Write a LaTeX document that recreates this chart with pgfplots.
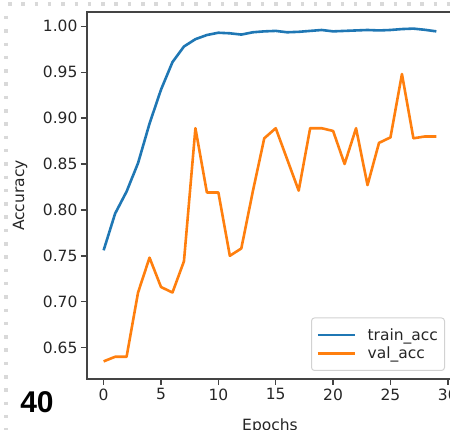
\documentclass[border=0pt]{standalone}
\usepackage{fontspec}
\setmainfont{DejaVu Sans}
\newfontfamily\badgefont{Liberation Sans}
\usepackage{pgfplots}
\pgfplotsset{compat=1.18}

\definecolor{mplblue}{HTML}{1F77B4}
\definecolor{mplorange}{HTML}{FF7F0E}
\definecolor{spine}{HTML}{444444}

\begin{document}
\begin{tikzpicture}[x=1pt,y=1pt]
\useasboundingbox (0,0) rectangle (450,430);
\clip (0,0) rectangle (450,430);
% notebook frame dots
\draw[gray!30, line width=3.5pt, dash pattern=on 3.5pt off 9.8pt] (6,414) -- (6,0);
\draw[gray!30, line width=3.5pt, dash pattern=on 3.5pt off 9.8pt] (8,426) -- (450,426);
\node[font=\badgefont\bfseries\fontsize{30}{32}\selectfont, anchor=center] at (37,28) {40};

\begin{axis}[
  at={(87pt,51pt)}, anchor=south west,
  width=366pt, height=367pt, scale only axis,
  xmin=-1.45, xmax=30.45, ymin=0.6158, ymax=1.0156,
  xtick={0,5,10,15,20,25,30},
  ytick={0.65,0.70,0.75,0.80,0.85,0.90,0.95,1.00},
  yticklabel style={/pgf/number format/fixed, /pgf/number format/fixed zerofill, /pgf/number format/precision=2},
  /pgf/number format/assume math mode=true,
  tick label style={font=\fontsize{15.5}{18}\selectfont, text=black!85},
  xtick pos=bottom, ytick pos=left, tick align=outside,
  major tick length=6pt,
  every tick/.style={spine, line width=1.4pt},
  axis line style={spine, line width=1.6pt},
  xlabel={Epochs}, ylabel={Accuracy},
  every axis x label/.style={at={(axis description cs:0.5,-0.128)}, anchor=center,
    font=\fontsize{15.5}{18}\selectfont, text=black!85},
  every axis y label/.style={at={(axis description cs:-0.183,0.5)}, anchor=center, rotate=90,
    font=\fontsize{15.5}{18}\selectfont, text=black!85},
  legend style={at={(axis description cs:1,0)}, anchor=south east, xshift=-8pt, yshift=8pt,
    draw=gray!35, line width=1pt, rounded corners=3pt, fill=white,
    font=\fontsize{15.5}{18}\selectfont, text=black!85,
    inner xsep=5pt, inner ysep=8pt, row sep=0pt, column sep=10pt,
    nodes={inner xsep=1.5pt, inner ysep=2.5pt, anchor=west}},
  legend cell align=left,
  legend image code/.code={\draw[#1] (0pt,0pt) -- (37pt,0pt);},
]
\addplot[mplblue, line width=2.6pt, line join=round] coordinates {
(0,0.756)(1,0.796)(2,0.820)(3,0.851)(4,0.894)(5,0.931)(6,0.961)(7,0.978)
(8,0.986)(9,0.9905)(10,0.993)(11,0.9924)(12,0.991)(13,0.9935)(14,0.9945)
(15,0.995)(16,0.9935)(17,0.994)(18,0.995)(19,0.996)(20,0.9945)(21,0.995)
(22,0.9955)(23,0.996)(24,0.9955)(25,0.996)(26,0.997)(27,0.9975)(28,0.9962)(29,0.9945)};
\addlegendentry{train\_acc}
\addplot[mplorange, line width=2.6pt, line join=round] coordinates {
(0,0.635)(1,0.640)(2,0.640)(3,0.710)(4,0.748)(5,0.716)(6,0.710)(7,0.744)
(8,0.889)(9,0.819)(10,0.819)(11,0.750)(12,0.758)(13,0.820)(14,0.878)
(15,0.889)(16,0.855)(17,0.821)(18,0.889)(19,0.889)(20,0.886)(21,0.850)
(22,0.889)(23,0.827)(24,0.873)(25,0.879)(26,0.948)(27,0.878)(28,0.880)(29,0.880)};
\addlegendentry{val\_acc}
\end{axis}
\end{tikzpicture}
\end{document}
